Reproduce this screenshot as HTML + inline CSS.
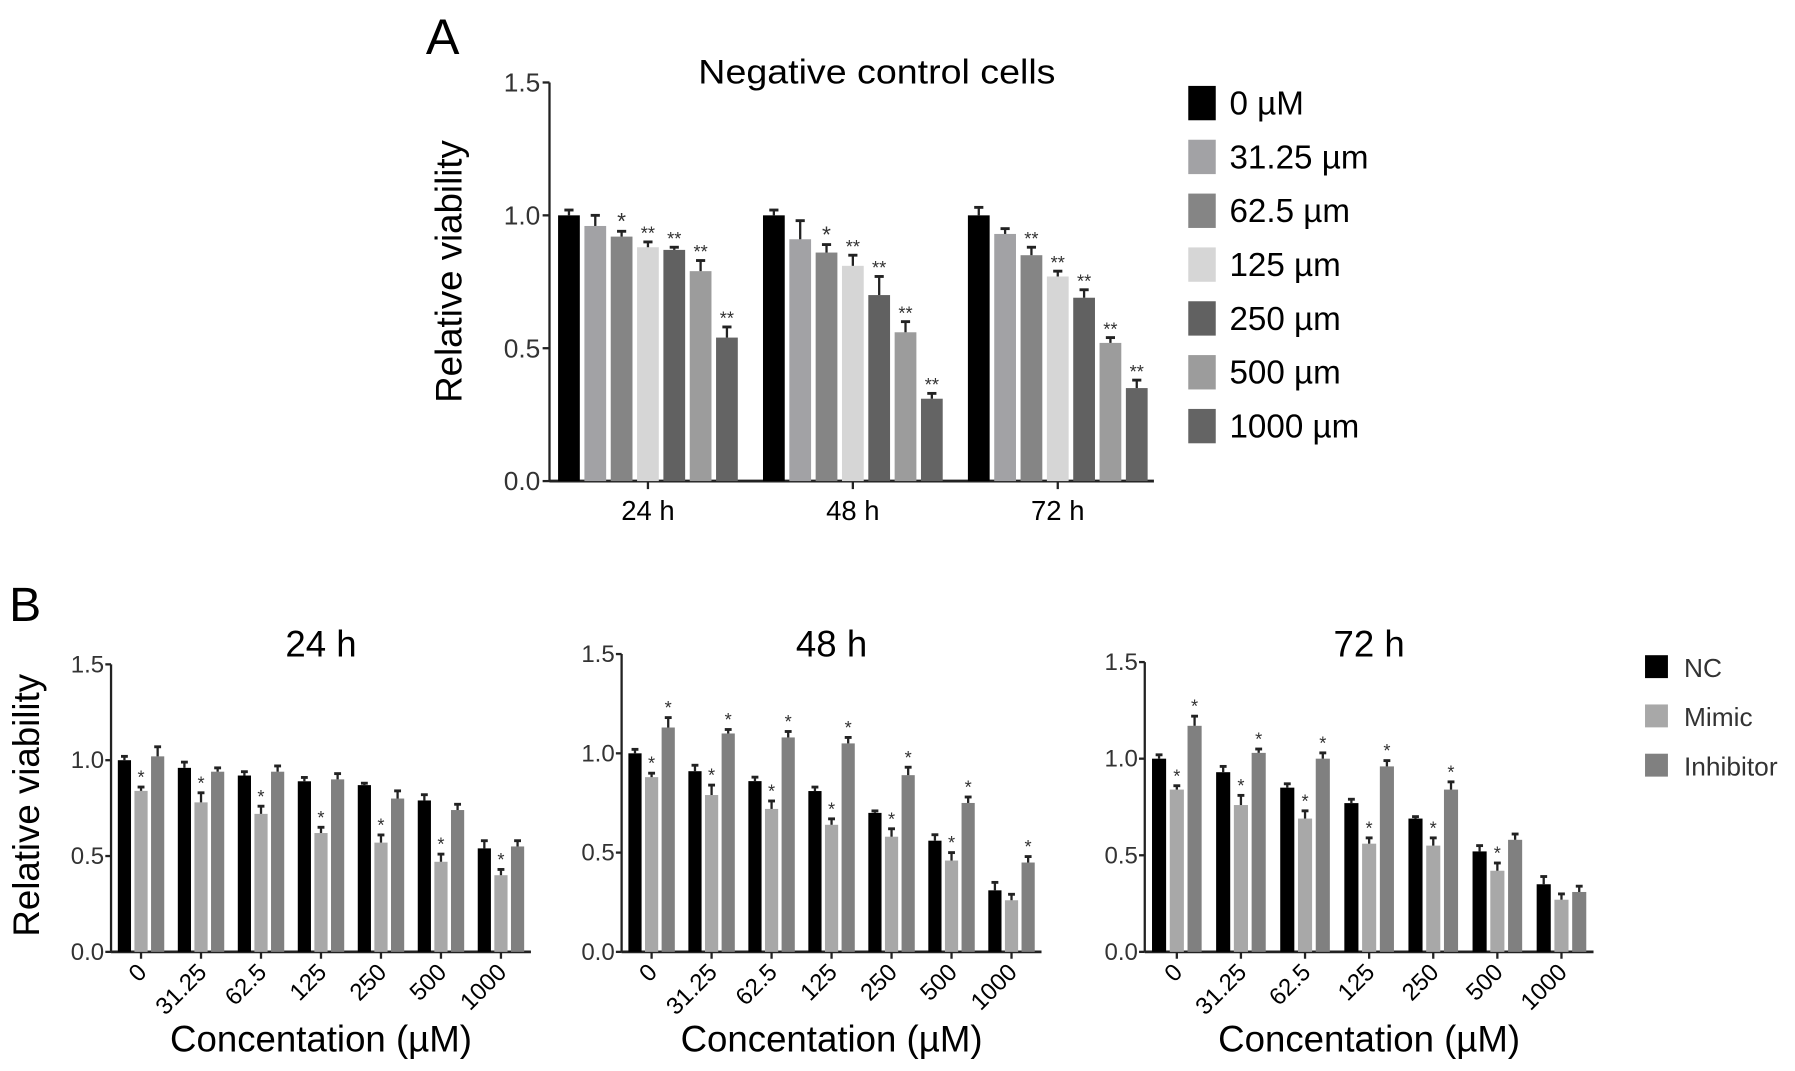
<!DOCTYPE html>
<html><head><meta charset="utf-8"><style>
html,body{margin:0;padding:0;background:#fff;}
svg{display:block;font-family:"Liberation Sans",Arial,sans-serif;}
</style></head><body>
<svg id="fig" width="1795" height="1071" viewBox="0 0 1568 935" preserveAspectRatio="none" xmlns="http://www.w3.org/2000/svg"></svg>
<script>
// Panel A data
const aGroups = ["24 h","48 h","72 h"];
const aSeries = ["0 µM","31.25 µm","62.5 µm","125 µm","250 µm","500 µm","1000 µm"];
const aVals24 = [1.0,0.96,0.92,0.88,0.87,0.79,0.54];
const aVals48 = [1.0,0.91,0.86,0.81,0.70,0.56,0.31];
const aVals72 = [1.0,0.93,0.85,0.77,0.69,0.52,0.35];
const aErr24 = [0.02,0.04,0.02,0.02,0.01,0.04,0.04];
const aErr48 = [0.02,0.07,0.03,0.04,0.07,0.04,0.02];
const aErr72 = [0.03,0.02,0.03,0.02,0.03,0.02,0.03];
const aSig24 = ["","","*","**","**","**","**"];
const aSig48 = ["","","*","**","**","**","**"];
const aSig72 = ["","","**","**","**","**","**"];
const yTicks = [0,0.5,1.0,1.5];
const yTickLabels = ["0.0","0.5","1.0","1.5"];
// Panel B data
const bCats = ["0","31.25","62.5","125","250","500","1000"];
const bSeries = ["NC","Mimic","Inhibitor"];
const b24NC = [1.0,0.96,0.92,0.89,0.87,0.79,0.54];
const b24Mimic = [0.84,0.78,0.72,0.62,0.57,0.47,0.40];
const b24Inh = [1.02,0.94,0.94,0.90,0.80,0.74,0.55];
const b48NC = [1.0,0.91,0.86,0.81,0.70,0.56,0.31];
const b48Mimic = [0.88,0.79,0.72,0.64,0.58,0.46,0.26];
const b48Inh = [1.13,1.10,1.08,1.05,0.89,0.75,0.45];
const b72NC = [1.0,0.93,0.85,0.77,0.69,0.52,0.35];
const b72Mimic = [0.84,0.76,0.69,0.56,0.55,0.42,0.27];
const b72Inh = [1.17,1.03,1.00,0.96,0.84,0.58,0.31];
const b24Sig = [[0,0,0,0,0,0,0],[1,1,1,1,1,1,1],[0,0,0,0,0,0,0]];
const b48Sig = [[0,0,0,0,0,0,0],[1,1,1,1,1,1,0],[1,1,1,1,1,1,1]];
const b72Sig = [[0,0,0,0,0,0,0],[1,1,1,1,1,1,0],[1,1,1,1,1,0,0]];
const bErrNC = [0.02,0.03,0.02,0.02,0.01,0.03,0.04];
const bErrMimic = [0.02,0.05,0.04,0.03,0.04,0.04,0.03];
const bErrInh = [0.05,0.02,0.03,0.03,0.04,0.03,0.03];

const NS="http://www.w3.org/2000/svg";
const svg=document.getElementById('fig');
function el(tag,attrs,parent,text){const e=document.createElementNS(NS,tag);for(const k in attrs)e.setAttribute(k,attrs[k]);if(text!==undefined)e.textContent=text;(parent||svg).appendChild(e);return e;}

// ---------- Panel A ----------
const aColors=["#000","#a2a2a5","#858585","#d6d6d6","#616161","#9c9c9c","#646464"];
const aX0=480,aX1=1008,aY0=420,aY1=72;
const ay=v=>aY0-(v/1.5)*(aY0-aY1);
const gA=el('g',{});

let t=el('text',{x:372,y:47,'font-size':44},gA,'A');
t=el('text',{x:610,y:73,'font-size':30,textLength:312,lengthAdjust:'spacingAndGlyphs'},gA,'Negative control cells');
t=el('text',{x:0,y:0,'font-size':32,'text-anchor':'middle',transform:'translate(403,237) rotate(-90)'},gA,'Relative viability');
let l=el('line',{x1:aX0,y1:aY1,x2:aX0,y2:aY0,stroke:'#222','stroke-width':2},gA);
l=el('line',{x1:aX0,y1:aY0,x2:aX1,y2:aY0,stroke:'#222','stroke-width':2.5},gA);
yTicks.forEach((v,i)=>{el('line',{x1:aX0-6,x2:aX0,y1:ay(v),y2:ay(v),stroke:'#222','stroke-width':2},gA);
 const tt=el('text',{x:aX0-8,y:ay(v)+8,'font-size':23,'text-anchor':'end',fill:'#333'},gA,yTickLabels[i]);
 });
const aVals=[aVals24,aVals48,aVals72],aErrs=[aErr24,aErr48,aErr72],aSigs=[aSig24,aSig48,aSig72];
const aCenters=[566,745,924];
const aPitch=23,aBW=19;
aGroups.forEach((g,gi)=>{
 const cx=aCenters[gi];
 el('line',{x1:cx,x2:cx,y1:aY0,y2:aY0+7,stroke:'#222','stroke-width':2},gA);
 const tl=el('text',{x:cx,y:aY0+34,'font-size':24,'text-anchor':'middle'},gA,g);
 
 aVals[gi].forEach((v,si)=>{
  const x=cx+(si-3)*aPitch-aBW/2;
  const r=el('rect',{x:x,y:ay(v),width:aBW,height:aY0-ay(v),fill:aColors[si]},gA);
  
  
  const e=aErrs[gi][si],mx=x+aBW/2;
  el('line',{x1:mx,x2:mx,y1:ay(v),y2:ay(v+e),stroke:'#222','stroke-width':2},gA);
  el('line',{x1:mx-4,x2:mx+4,y1:ay(v+e),y2:ay(v+e),stroke:'#222','stroke-width':2.5},gA);
  if(aSigs[gi][si]){const s=el('text',{x:mx,y:ay(v+e)-2,'font-size':aSigs[gi][si]=='*'?20:16,'text-anchor':'middle',fill:'#333'},gA,aSigs[gi][si]);
   }
 });
});
aSeries.forEach((s,i)=>{const y=75+i*47;
 const r=el('rect',{x:1038,y:y,width:24,height:30,fill:aColors[i]},gA);
 
 const tx=el('text',{x:1074,y:y+25,'font-size':29},gA,s);
 });

// ---------- Panel B ----------
const bColors=["#000","#a8a8a8","#808080"];
t=el('text',{x:8,y:542,'font-size':42},null,'B');
t=el('text',{x:0,y:0,'font-size':32,'text-anchor':'middle',transform:'translate(34,703) rotate(-90)'},null,'Relative viability');
const subs=[
 {title:'24 h',x0:97,pitch:52.4,yTop:580,vals:[b24NC,b24Mimic,b24Inh],sig:b24Sig},
 {title:'48 h',x0:543,pitch:52.4,yTop:571,vals:[b48NC,b48Mimic,b48Inh],sig:b48Sig},
 {title:'72 h',x0:1000,pitch:56,yTop:578,vals:[b72NC,b72Mimic,b72Inh],sig:b72Sig}];
const bErrs=[bErrNC,bErrMimic,bErrInh];
const bY0=831;
subs.forEach((sp,pi)=>{
 const g=el('g',{});
 
 
 const by=v=>bY0-(v/1.5)*(bY0-sp.yTop);
 const x1=sp.x0+sp.pitch*7;
 el('line',{x1:sp.x0,x2:sp.x0,y1:sp.yTop,y2:bY0,stroke:'#222','stroke-width':2},g);
 el('line',{x1:sp.x0,x2:x1,y1:bY0,y2:bY0,stroke:'#222','stroke-width':2.5},g);
 yTicks.forEach((v,i)=>{el('line',{x1:sp.x0-5,x2:sp.x0,y1:by(v),y2:by(v),stroke:'#222','stroke-width':2},g);
  const tt=el('text',{x:sp.x0-6,y:by(v)+7,'font-size':21,'text-anchor':'end',fill:'#333'},g,yTickLabels[i]);
  });
 const mid=(sp.x0+x1)/2;
 const ti=el('text',{x:mid,y:573,'font-size':32,'text-anchor':'middle'},g,sp.title);
 
 const xl=el('text',{x:mid,y:918,'font-size':32,'text-anchor':'middle'},g,'Concentation (µM)');
 
 const bw=sp.pitch*0.22,bp=sp.pitch*0.277;
 bCats.forEach((c,ci)=>{
  const cx=sp.x0+sp.pitch*(ci+0.5);
  el('line',{x1:cx,x2:cx,y1:bY0,y2:bY0+6,stroke:'#222','stroke-width':2},g);
  const tl=el('text',{x:0,y:0,'font-size':21,'text-anchor':'end',transform:'translate('+(cx+6)+','+(bY0+19)+') rotate(-45)'},g,c);
  
  sp.vals.forEach((arr,si)=>{
   const v=arr[ci],x=cx+(si-1)*bp-bw/2;
   const r=el('rect',{x:x,y:by(v),width:bw,height:bY0-by(v),fill:bColors[si]},g);
   
   
   const e=bErrs[si][ci],mx=x+bw/2;
   el('line',{x1:mx,x2:mx,y1:by(v),y2:by(v+e),stroke:'#222','stroke-width':2},g);
   el('line',{x1:mx-3,x2:mx+3,y1:by(v+e),y2:by(v+e),stroke:'#222','stroke-width':2.5},g);
   if(sp.sig[si][ci]){const s=el('text',{x:mx,y:by(v+e)-3,'font-size':16,'text-anchor':'middle',fill:'#333'},g,'*');
    }
  });
 });
});
bSeries.forEach((s,i)=>{const y=572+i*43;
 const r=el('rect',{x:1437,y:y,width:20,height:20,fill:bColors[i]});
 
 const tx=el('text',{x:1471,y:y+19,'font-size':23,fill:'#333'},null,s);
 });
</script>
</body></html>
